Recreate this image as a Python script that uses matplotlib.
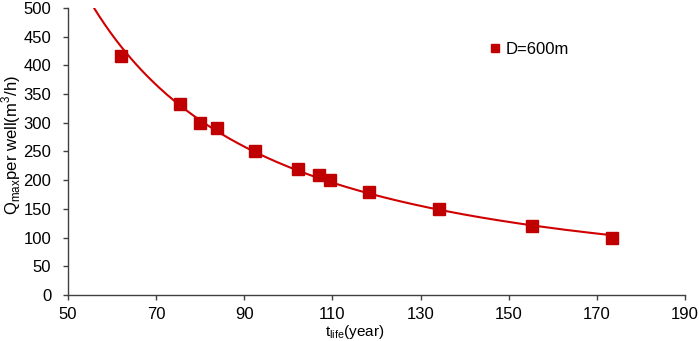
import matplotlib
matplotlib.use("Agg")
import matplotlib.pyplot as plt
import numpy as np

plt.rcParams.update({"font.family": ["Liberation Sans", "DejaVu Sans"], "font.size": 9})

t_life = [62, 75.3, 80, 83.8, 92.4, 102.3, 106.9, 109.4, 118.3, 134.2, 155.3, 173.4]
q_max = [416, 333, 299, 291, 250, 219.5, 208.5, 200.3, 180, 149.8, 120.2, 100]
x_ticks = [50, 70, 90, 110, 130, 150, 170, 190]
y_ticks = [0, 50, 100, 150, 200, 250, 300, 350, 400, 450, 500]

# power-law trend line (log-log least squares), extended back a few years
b, ln_a = np.polyfit(np.log(t_life), np.log(q_max), 1)
x_fit = np.linspace(56, max(t_life), 200)
y_fit = np.exp(ln_a) * x_fit ** b

fig = plt.figure(figsize=(6.99, 3.41), dpi=100)
ax = fig.add_axes([68 / 699, 1 - 295 / 341, (685 - 68) / 699, (295 - 8) / 341])

ax.plot(x_fit, y_fit, color="#d00000", linewidth=1.5, zorder=2)
ax.plot(t_life, q_max, "s", color="#c00000", markersize=8.5, linestyle="none",
        label="D=600m", zorder=3)

ax.set_xlim(50, 190)
ax.set_ylim(0, 500)
ax.set_xticks(x_ticks)
ax.set_yticks(y_ticks)
for s in ["top", "right"]:
    ax.spines[s].set_visible(False)
for s in ["left", "bottom"]:
    ax.spines[s].set_color("#404040")
    ax.spines[s].set_linewidth(1)
ax.tick_params(colors="#404040", labelcolor="black", length=3.5, width=1, labelsize=12)
ax.tick_params(axis="x", pad=5)
ax.tick_params(axis="y", pad=8.5)

ax.set_xlabel(r"t$_{\mathregular{life}}$(year)", fontsize=11)
ax.set_ylabel(r"Q$_{\mathregular{max}}$per well(m$^{\mathregular{3}}$/h)", fontsize=12)
ax.xaxis.set_label_coords(0.465, -0.096)
ax.yaxis.set_label_coords(-0.073, 0.523)

ax.legend(loc="upper left", bbox_to_anchor=(0.655, 0.935), frameon=False, fontsize=12,
          markerscale=0.6, handletextpad=0.1, handlelength=1)

fig.savefig("out.png", dpi=100)
